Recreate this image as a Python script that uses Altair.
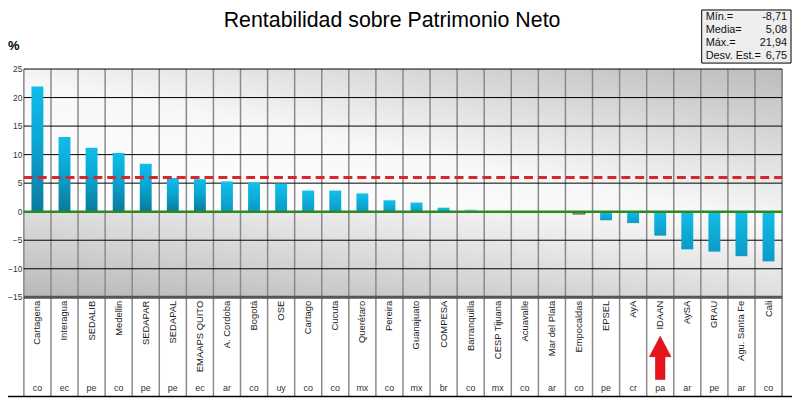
import altair as alt
import pandas as pd

names = ["Cartagena", "Interagua", "SEDALIB", "Medellin", "SEDAPAR", "SEDAPAL",
         "EMAAPS QUITO", "A. Cordoba", "Bogotá", "OSE", "Cartago", "Cucuta",
         "Querétaro", "Pereira", "Guanajuato", "COMPESA", "Barranquilla",
         "CESP Tijuana", "Acuavalle", "Mar del Plata", "Empocaldas", "EPSEL",
         "AyA", "IDAAN", "AySA", "GRAU", "Agu. Santa Fe", "Cali"]
codes = ["co", "ec", "pe", "co", "pe", "pe", "ec", "ar", "co", "uy", "co", "co",
         "mx", "co", "mx", "br", "co", "mx", "co", "ar", "co", "pe", "cr", "pa",
         "ar", "pe", "ar", "co"]
values = [21.94, 13.1, 11.2, 10.3, 8.4, 5.9, 5.7, 5.3, 5.1, 4.9, 3.7, 3.7, 3.2,
          2.0, 1.6, 0.7, 0.4, 0.0, 0.0, -0.1, -0.4, -1.5, -2.0, -4.2, -6.6,
          -7.0, -7.8, -8.71]
y_ticks = [-15, -10, -5, 0, 5, 10, 15, 20, 25]
ref_value = 6
stat_labels = ["Mín.=", "Media=", "Máx.=", "Desv. Est.="]
stat_values = ["-8,71", "5,08", "21,94", "6,75"]
title_text = "Rentabilidad sobre Patrimonio Neto"
highlight = "IDAAN"

df = pd.DataFrame({"name": names, "code": codes, "value": values})
one = pd.DataFrame({"a": [0]})
ticks_df = pd.DataFrame({"t": y_ticks})
hgrid = pd.DataFrame({"v": [t for t in y_ticks if t not in (0, -15)]})

PL = 16            # left padding
W, H = 764, 230
BOT = 330          # bottom of label area in plot coords
FONT = "Liberation Sans"
xscale = alt.Scale(paddingInner=0, paddingOuter=0)
yscale = alt.Scale(domain=[-15, 25], nice=False, zero=False)
xaxis = alt.Axis(title=None, labelAngle=270, ticks=False, domain=False, labelPadding=3,
                 labelFont=FONT, labelFontSize=9.5, labelColor="#1a1a1a",
                 labelOverlap=False, grid=False)
yaxis = alt.Axis(values=y_ticks, ticks=False, grid=False, domain=True,
                 domainColor="#555555", domainWidth=1.5, labels=False, title=None)


def X(**kw):
    return alt.X("name:N", sort=names, scale=xscale, axis=xaxis, **kw)


def Y(field):
    return alt.Y(field, scale=yscale, axis=yaxis)


def grad(stops, x1=0, y1=0, x2=0, y2=1):
    return {"gradient": "linear", "x1": x1, "y1": y1, "x2": x2, "y2": y2,
            "stops": [{"offset": o, "color": c} for o, c in stops]}


bg_top = alt.Chart(one).mark_rect(
    color=grad([(0, "#ffffff"), (0.4, "#f7f7f7"), (1, "#bcbcbc")], x1=0.1, y1=0.9, x2=1, y2=0)
).encode(x=alt.value(0), x2=alt.value(W), y=alt.datum(25), y2=alt.datum(0))

bg_bot = alt.Chart(one).mark_rect(
    color=grad([(0, "#b8b8b8"), (0.6, "#e4e4e4"), (1, "#ffffff")], x1=0, y1=1, x2=1, y2=0)
).encode(x=alt.value(0), x2=alt.value(W), y=alt.datum(0), y2=alt.datum(-15))

vgrid = alt.Chart(df).mark_rule(color="#8a8a8a", strokeWidth=1.5).encode(
    x=X(bandPosition=0), y=alt.value(0), y2=alt.value(BOT))
vright = alt.Chart(one).mark_rule(color="#777777", strokeWidth=1.5).encode(
    x=alt.value(W), y=alt.value(0), y2=alt.value(BOT))
bottom_line = alt.Chart(one).mark_rule(color="#000000", strokeWidth=1.5).encode(
    x=alt.value(-PL), x2=alt.value(W + 10), y=alt.value(BOT))

hg = alt.Chart(hgrid).mark_rule(color="#000000", strokeWidth=1).encode(
    y=Y("v:Q"), x=alt.value(0), x2=alt.value(W))
floor = alt.Chart(one).mark_rule(color="#555555", strokeWidth=3).encode(
    y=alt.datum(-15), x=alt.value(0), x2=alt.value(W))

ylabels = alt.Chart(ticks_df).mark_text(font=FONT, fontSize=8.5, color="#333333",
                                        align="right", baseline="middle").encode(
    y=Y("t:Q"), x=alt.value(-1.5), text=alt.Text("t:Q", format="d"))

bars_dark = alt.Chart(df).transform_filter("datum.value > 5.5").mark_bar(
    size=12, color=grad([(0, "#10bdea"), (0.45, "#0aa6d2"), (1, "#0a7a9c")])
).encode(x=X(), y=Y("value:Q"), y2=alt.datum(0))
bars_light = alt.Chart(df).transform_filter(
    "datum.value > 0.5 && datum.value <= 5.5").mark_bar(
    size=12, color=grad([(0, "#12c0ee"), (1, "#0a9ac4")])
).encode(x=X(), y=Y("value:Q"), y2=alt.datum(0))
bars_pale = alt.Chart(df).transform_filter(
    "datum.value > 0 && datum.value <= 0.5").mark_bar(
    size=12, color="#a6d9e7"
).encode(x=X(), y=Y("value:Q"), y2=alt.datum(0))
bars_neg = alt.Chart(df).transform_filter("datum.value < -1").mark_bar(
    size=12, color=grad([(0, "#12bdea"), (1, "#0d9ac6")])
).encode(x=X(), y=Y("value:Q"), y2=alt.datum(0))
bars_small_neg = alt.Chart(df).transform_filter(
    "datum.value < 0 && datum.value >= -1").mark_bar(
    size=12, color="#c9d3cf", stroke="#1e4a3a", strokeWidth=1
).encode(x=X(), y=Y("value:Q"), y2=alt.datum(0))

ref_line = alt.Chart(one).mark_rule(color="#d8262b", strokeWidth=3, strokeDash=[9, 5]).encode(
    y=alt.datum(ref_value), x=alt.value(0), x2=alt.value(W))
zero_line = alt.Chart(one).mark_rule(color="#2c8a23", strokeWidth=2.5).encode(
    y=alt.datum(0), x=alt.value(0), x2=alt.value(W))

code_text = alt.Chart(df).mark_text(font=FONT, fontSize=9, color="#333333",
                                    baseline="middle").encode(
    x=X(), y=alt.value(BOT - 9), text="code:N")

arrow = alt.Chart(one).mark_point(
    shape="M0,-1L0.5,-0.05L0.22,-0.05L0.22,1L-0.22,1L-0.22,-0.05L-0.5,-0.05Z",
    size=1900, filled=True, fill="#e8141c", stroke="#b00000", strokeWidth=0.5, opacity=1
).encode(x=alt.datum(highlight), y=alt.value(291))

title = alt.Chart(one).mark_text(font=FONT, fontSize=21.5, color="#000000",
                                 align="center", baseline="middle").encode(
    x=alt.value(395 - 8 - PL), y=alt.value(-48), text=alt.value(title_text))
pct = alt.Chart(one).mark_text(font=FONT, fontSize=13, fontWeight="bold", color="#000000",
                               align="left", baseline="middle").encode(
    x=alt.value(-PL), y=alt.value(-23), text=alt.value("%"))

box = alt.Chart(one).mark_rect(fill="#eeeeee", stroke="#000000", strokeWidth=1).encode(
    x=alt.value(699 - PL), x2=alt.value(789 - PL), y=alt.value(-59.5), y2=alt.value(-6))

stat_layers = []
for i, (lab, val) in enumerate(zip(stat_labels, stat_values)):
    yy = -52 + 13 * i
    stat_layers.append(alt.Chart(one).mark_text(
        font=FONT, fontSize=11, color="#111111", align="left", baseline="middle").encode(
        x=alt.value(703 - PL), y=alt.value(yy), text=alt.value(lab)))
    stat_layers.append(alt.Chart(one).mark_text(
        font=FONT, fontSize=11, color="#111111", align="right", baseline="middle").encode(
        x=alt.value(785 - PL), y=alt.value(yy), text=alt.value(val)))

chart = alt.layer(
    bg_top, bg_bot, vgrid, vright, hg, floor,
    bars_dark, bars_light, bars_pale, bars_neg, bars_small_neg,
    ref_line, zero_line, ylabels, code_text, arrow, bottom_line,
    title, pct, box, *stat_layers
).properties(
    width=W, height=H,
    autosize=alt.AutoSizeParams(type="none"),
    padding={"left": PL, "top": 60, "right": 10, "bottom": BOT - H + 1},
    background="#ffffff",
).configure_view(strokeWidth=0)

chart.save("out.html", embed_options={"renderer": "svg", "actions": False})
